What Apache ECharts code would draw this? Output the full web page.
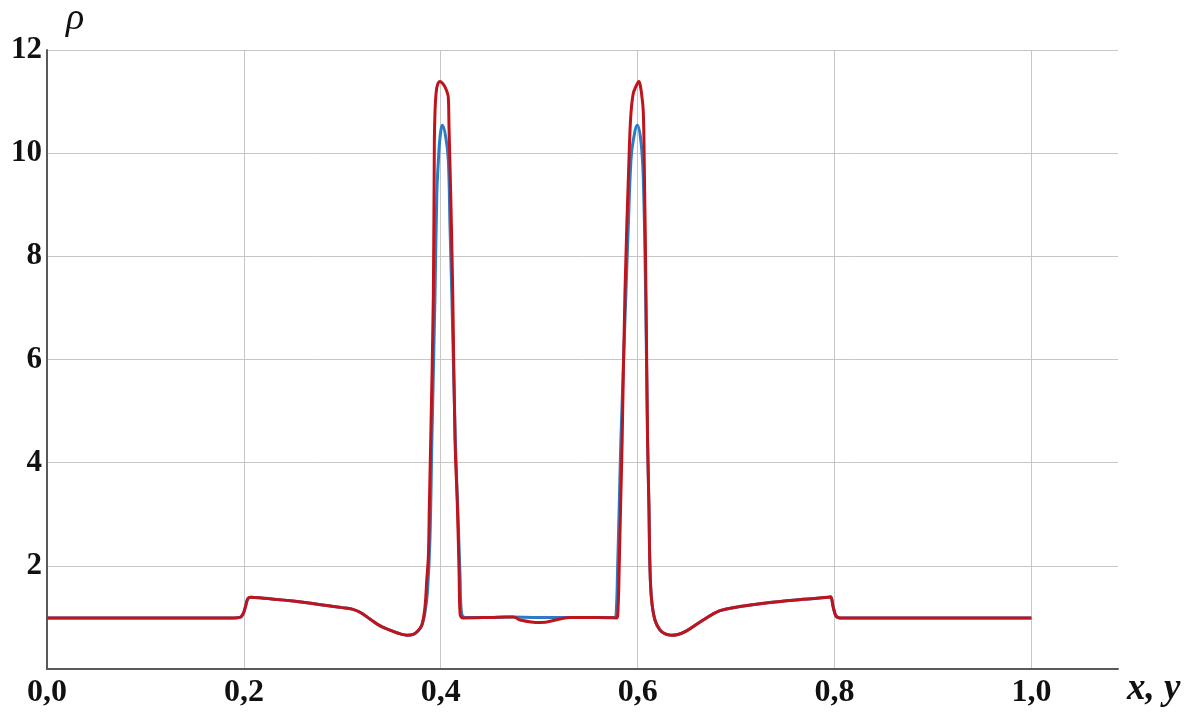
<!DOCTYPE html>
<html>
<head>
<meta charset="utf-8">
<title>Density profile</title>
<script src="https://cdn.jsdelivr.net/npm/echarts@6/dist/echarts.min.js"></script>
<style>
  html, body { margin: 0; padding: 0; background: #ffffff; }
  #chart { width: 1201px; height: 714px; }
</style>
</head>
<body>
<div id="chart"></div>
<script>
// Axis ticks
const xTicks = [0.2, 0.4, 0.6, 0.8, 1.0];
const yTicks = [2, 4, 6, 8, 10, 12];

// Blue curve: coordinate and density
const blueX = [
  0, 0.1, 0.19, 0.196, 0.199, 0.2015, 0.204, 0.207, 0.22, 0.25, 0.28, 0.30, 0.31,
  0.318, 0.328, 0.338, 0.349, 0.359, 0.366, 0.372, 0.377, 0.381, 0.384, 0.3865, 0.389,
  0.391, 0.3942, 0.396, 0.3976, 0.3993, 0.4017, 0.4051, 0.4077, 0.4094, 0.4112,
  0.4148, 0.4175, 0.4196, 0.421, 0.4245, 0.45, 0.47, 0.50, 0.53, 0.577, 0.5785,
  0.5797, 0.5813, 0.583, 0.5881, 0.5905, 0.5932, 0.5955, 0.5997, 0.6033, 0.6057,
  0.6081, 0.6101, 0.6115, 0.6125, 0.6142, 0.6176, 0.6226, 0.628, 0.634, 0.640, 0.6497,
  0.6666, 0.6836, 0.7039, 0.7343, 0.7681, 0.7935, 0.796, 0.7986, 0.8015, 0.8056,
  0.9, 1.0
];
const blueRho = [
  0.99, 0.99, 0.99, 1.0, 1.06, 1.2, 1.36, 1.39, 1.37, 1.32, 1.24, 1.19, 1.16,
  1.10, 0.97, 0.84, 0.75, 0.68, 0.655, 0.67, 0.74, 0.86, 1.10, 1.5, 2.5,
  4.44, 7.28, 9.21, 9.86, 10.31, 10.54, 10.31, 9.86, 8.57, 7.28,
  4.44, 3.0, 1.8, 1.1, 1.0, 1.0, 1.01, 1.0, 1.0, 1.0, 1.2,
  1.99, 3.15, 4.44, 7.28, 8.57, 9.86, 10.24, 10.54, 10.24, 9.54,
  7.28, 4.44, 3.15, 1.99, 1.34, 0.95, 0.76, 0.68, 0.655, 0.665, 0.74,
  0.95, 1.13, 1.21, 1.29, 1.35, 1.39, 1.40, 1.21, 1.03, 0.99,
  0.99, 0.99
];

// Red curve: coordinate and density
const redX = [
  0, 0.1, 0.19, 0.196, 0.199, 0.2015, 0.204, 0.207, 0.22, 0.25, 0.28, 0.30, 0.31,
  0.318, 0.328, 0.338, 0.349, 0.359, 0.366, 0.372, 0.377, 0.381, 0.384, 0.3858, 0.3874,
  0.3884, 0.3898, 0.3925, 0.3935, 0.3942, 0.3952, 0.3968, 0.3993, 0.402, 0.4044,
  0.4065, 0.4077, 0.4084, 0.4101, 0.4122, 0.4145, 0.4169, 0.4186, 0.4196, 0.423,
  0.45, 0.466, 0.474, 0.4805, 0.5008, 0.5211, 0.5313, 0.56, 0.5787, 0.5802,
  0.5813, 0.5827, 0.5843, 0.5871, 0.5915, 0.5932, 0.5955, 0.598, 0.6013, 0.6028,
  0.604, 0.6057, 0.6067, 0.6085, 0.6101, 0.6115, 0.6125, 0.6142, 0.6176, 0.6226,
  0.628, 0.634, 0.640, 0.6497, 0.6666, 0.6836, 0.7039, 0.7343, 0.7681, 0.7935, 0.796,
  0.7986, 0.8015, 0.8056, 0.9, 1.0
];
const redRho = [
  0.99, 0.99, 0.99, 1.0, 1.06, 1.2, 1.36, 1.39, 1.37, 1.32, 1.24, 1.19, 1.16,
  1.10, 0.97, 0.84, 0.75, 0.68, 0.655, 0.67, 0.74, 0.86, 1.21, 1.73, 2.18,
  3.15, 4.44, 7.28, 10.24, 10.82, 11.15, 11.33, 11.39, 11.35, 11.28,
  11.18, 11.08, 10.50, 9.22, 7.28, 4.44, 3.15, 1.86, 1.08, 0.99,
  1.0, 1.01, 1.01, 0.95, 0.90, 0.97, 1.0, 1.0, 0.99, 1.21,
  1.99, 3.15, 4.44, 7.28, 10.05, 10.76, 11.15, 11.28, 11.39, 11.30,
  11.15, 10.82, 9.86, 7.28, 4.44, 3.15, 1.99, 1.34, 0.95, 0.76,
  0.68, 0.655, 0.665, 0.74, 0.95, 1.13, 1.21, 1.29, 1.35, 1.39, 1.40,
  1.21, 1.03, 0.99, 0.99, 0.99
];

const pairs = (xs, ys) => xs.map((x, i) => [x, ys[i]]);

const serif = '"Liberation Serif", "Times New Roman", serif';

const chart = echarts.init(document.getElementById('chart'), null, { renderer: 'canvas' });

chart.setOption({
  animation: false,
  backgroundColor: '#ffffff',
  grid: { left: 47, top: 49, right: 83, bottom: 45, containLabel: false },
  xAxis: {
    type: 'value',
    min: 0,
    max: 1.088,
    interval: 0.2,
    name: 'x, y',
    nameLocation: 'end',
    nameGap: 9,
    nameTextStyle: {
      fontFamily: serif, fontSize: 37, fontWeight: 'bold', fontStyle: 'italic',
      color: '#111111', verticalAlign: 'top', padding: [2, 0, 0, 0]
    },
    axisLine: { show: true, lineStyle: { color: '#5a5a5a', width: 2 } },
    axisTick: { show: false },
    axisLabel: {
      margin: 8,
      showMaxLabel: false,
      fontFamily: serif, fontSize: 32, fontWeight: 'bold', color: '#111111',
      formatter: v => (xTicks.includes(+v.toFixed(1)) || v === 0) ? v.toFixed(1).replace('.', ',') : ''
    },
    splitLine: { show: true, showMinLine: false, showMaxLine: false, lineStyle: { color: '#c6c6c6', width: 1 } }
  },
  yAxis: {
    type: 'value',
    min: 0,
    max: 12,
    interval: 2,
    name: 'ρ',
    nameLocation: 'end',
    nameGap: 12,
    nameTextStyle: {
      fontFamily: serif, fontSize: 38, fontStyle: 'italic', color: '#111111',
      align: 'left', padding: [0, 0, 0, 19]
    },
    axisLine: { show: true, lineStyle: { color: '#5a5a5a', width: 2 } },
    axisTick: { show: false },
    axisLabel: {
      margin: 5,
      showMinLabel: false,
      fontFamily: serif, fontSize: 31, fontWeight: 'bold', color: '#111111',
      formatter: v => yTicks.includes(v) ? String(v) : ''
    },
    splitLine: { show: true, lineStyle: { color: '#c6c6c6', width: 1 } }
  },
  series: [
    {
      name: 'blue',
      type: 'line',
      data: pairs(blueX, blueRho),
      showSymbol: false,
      symbol: 'none',
      smooth: 0.4,
      lineStyle: { color: '#2b7cc4', width: 3 },
      z: 3
    },
    {
      name: 'red',
      type: 'line',
      data: pairs(redX, redRho),
      showSymbol: false,
      symbol: 'none',
      smooth: 0.4,
      lineStyle: { color: '#c0141c', width: 3 },
      z: 4
    }
  ]
});
</script>
</body>
</html>
